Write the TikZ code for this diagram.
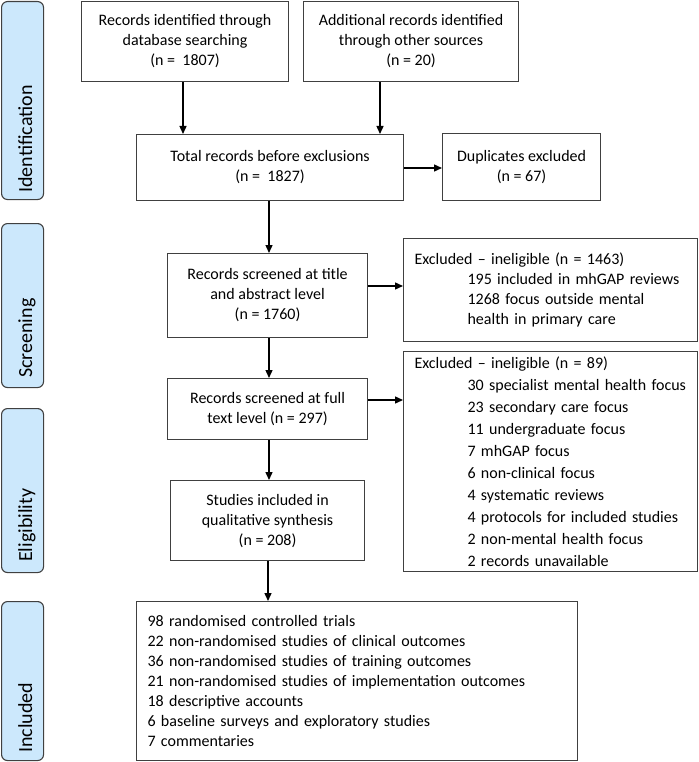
\documentclass[tikz,border=0pt]{standalone}
\usepackage{fontspec}
\setmainfont{Carlito}
\usetikzlibrary{arrows.meta}
\definecolor{lblue}{HTML}{CCE8FC}
\definecolor{bord}{HTML}{404040}
\begin{document}
\begin{tikzpicture}[x=1pt,y=-1pt,
  box/.style={draw=bord, line width=1.1pt, align=center, inner sep=0pt, anchor=north west, font=\fontsize{16}{20}\selectfont},
  lbox/.style={draw=bord, line width=1.1pt, align=left, inner xsep=11pt, inner ysep=0pt, anchor=north west},
  side/.style={draw=bord, fill=lblue, line width=1.1pt, rounded corners=6pt, anchor=north west, inner sep=0pt},
  sidetext/.style={rotate=90, anchor=base west, inner sep=0pt, font=\fontsize{20}{24}\selectfont},
  arr/.style={line width=1.4pt, -{Triangle[length=8pt,width=7pt]}}]
\useasboundingbox (0,0) rectangle (698,762);

% side labels
\node[side, minimum width=42pt, minimum height=198pt] (sI) at (1,1) {};
\node[sidetext] (tI) at (32,193) {Identification};
\node[side, minimum width=42pt, minimum height=164pt] (sS) at (1,223) {};
\node[sidetext] (tS) at (32,378) {Screening};
\node[side, minimum width=42pt, minimum height=164pt] (sE) at (1,408) {};
\node[sidetext] (tE) at (32,562) {Eligibility};
\node[side, minimum width=42pt, minimum height=159pt] (sN) at (1,601) {};
\node[sidetext] (tN) at (32,753) {Included};

% main boxes
\node[box, minimum width=207pt, minimum height=80pt] (A) at (81,1)
  {Records identified through\\database searching\\(n = \ 1807)};
\node[box, minimum width=215pt, minimum height=80pt] (B) at (303,1)
  {Additional records identified\\through other sources\\(n = 20)};
\node[box, minimum width=267pt, minimum height=66pt] (C) at (136,134)
  {Total records before exclusions\\(n = \ 1827)};
\node[box, minimum width=158pt, minimum height=67pt] (Dup) at (442,133)
  {Duplicates excluded\\(n = 67)};
\node[box, minimum width=200pt, minimum height=84pt] (D) at (167,253)
  {Records screened at title\\and abstract level\\(n = 1760)};
\node[box, minimum width=200pt, minimum height=61pt] (E) at (167,378)
  {Records screened at full\\text level (n = 297)};
\node[box, minimum width=194pt, minimum height=80pt] (F) at (170,480)
  {Studies included in\\qualitative synthesis\\(n = 208)};

\node[lbox, text width=272pt, minimum height=103pt, font=\fontsize{16}{20}\selectfont] (X1) at (403,238)
  {Excluded – ineligible (n = 1463)\\
   \hspace*{53pt}195 included in mhGAP reviews\\
   \hspace*{53pt}1268 focus outside mental\\
   \hspace*{53pt}health in primary care};
\node[lbox, text width=272pt, minimum height=220pt, font=\fontsize{16}{22}\selectfont] (X2) at (403,351)
  {Excluded – ineligible (n = 89)\\
   \hspace*{53pt}30 specialist mental health focus\\
   \hspace*{53pt}23 secondary care focus\\
   \hspace*{53pt}11 undergraduate focus\\
   \hspace*{53pt}7 mhGAP focus\\
   \hspace*{53pt}6 non-clinical focus\\
   \hspace*{53pt}4 systematic reviews\\
   \hspace*{53pt}4 protocols for included studies\\
   \hspace*{53pt}2 non-mental health focus\\
   \hspace*{53pt}2 records unavailable};
\node[lbox, text width=419pt, minimum height=159pt, font=\fontsize{16}{20}\selectfont] (G) at (136,601)
  {98 randomised controlled trials\\
   22 non-randomised studies of clinical outcomes\\
   36 non-randomised studies of training outcomes\\
   21 non-randomised studies of implementation outcomes\\
   18 descriptive accounts\\
   6 baseline surveys and exploratory studies\\
   7 commentaries};

% arrows
\draw[arr] (A.south -| 183,0) -- (C.north -| 183,0);
\draw[arr] (B.south -| 380,0) -- (C.north -| 380,0);
\draw[arr] (C.east |- 0,168) -- (Dup.west |- 0,168);
\draw[arr] (C.south -| 269,0) -- (D.north -| 269,0);
\draw[arr] (D.east |- 0,286) -- (X1.west |- 0,286);
\draw[arr] (D.south -| 269,0) -- (E.north -| 269,0);
\draw[arr] (E.east |- 0,400) -- (X2.west |- 0,400);
\draw[arr] (E.south -| 269,0) -- (F.north -| 269,0);
\draw[arr] (F.south -| 268,0) -- (G.north -| 268,0);
\end{tikzpicture}
\end{document}
